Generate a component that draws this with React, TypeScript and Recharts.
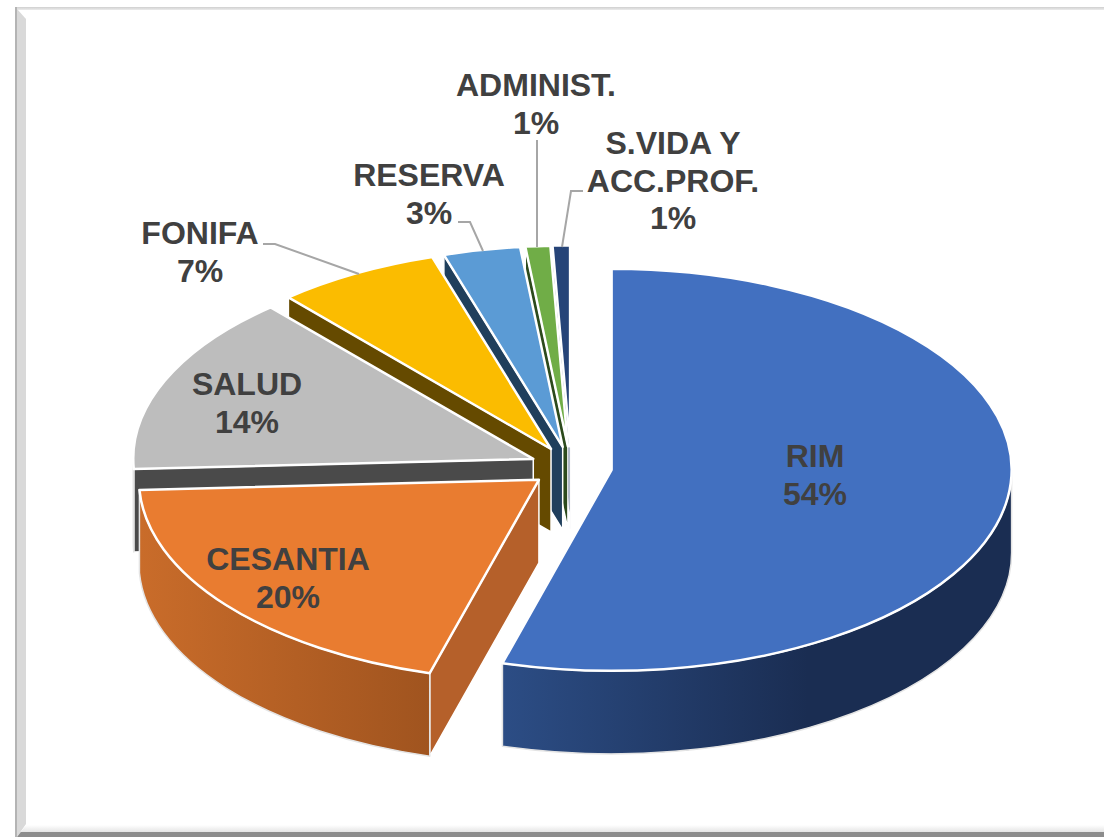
import { PieChart, Pie } from 'recharts';

// Listed from the back of the pie to the front, so later slices paint over earlier ones
const CATEGORIES = ['S.VIDA Y\nACC.PROF.', 'ADMINIST.', 'RESERVA', 'FONIFA', 'SALUD', 'CESANTIA', 'RIM'];
const VALUES = [0.7, 1.0, 3.1, 6.6, 14.4, 19.8, 54.4];

const chartData = CATEGORIES.map((name, i) => ({ name, value: VALUES[i] }));

const TOP_COLORS = ['#264478', '#70ad47', '#5b9bd5', '#fbbc00', '#bdbdbd', '#e97c30', '#4270c0'];
const CUT_COLORS = ['#1d3560', '#2c4a1c', '#203f5c', '#654a00', '#4a4a4a', '#b5602a', '#1a2f57'];
const WALL_LEFT = ['#1d3560', '#2c4a1c', '#203f5c', '#654a00', '#4a4a4a', '#c96c2a', '#2c4d85'];
const WALL_RIGHT = ['#1d3560', '#2c4a1c', '#203f5c', '#654a00', '#4a4a4a', '#a0541f', '#1a2d52'];
// Where the wall gradient reaches its dark end
const WALL_STOP = [1, 1, 1, 1, 1, 1, 0.6];

// Label placement: centre x, first baseline, leader line
const LABEL_X = [673, 536, 429, 200, 247, 288, 815];
const LABEL_Y = [154, 96, 186, 244, 395, 570, 467];
const LEADERS = [
    '583,191 571,191 562,247',
    '537,140 537,247',
    '458,222 470,222 483,251',
    '263,244 275,244 359,274',
    '',
    '',
    '',
];

const TILT = 0.5025;
const EXPLODE = 41;
const DEPTH = 83;
const LINE_HEIGHT = 37.5;
const RAD = Math.PI / 180;

function SliceShape(props: any) {
    const { cx, cy, outerRadius: r, startAngle, endAngle, index } = props;
    // recharts angles are counter-clockwise from east, here they are clockwise from the top
    let a0 = 90 - Math.max(startAngle, endAngle);
    const span = Math.abs(endAngle - startAngle);
    if (a0 < 0) a0 += 360;
    const a1 = a0 + span;
    const mid = (a0 + a1) / 2;
    const ox = cx + EXPLODE * Math.sin(mid * RAD);
    const oy = cy - EXPLODE * TILT * Math.cos(mid * RAD);
    const ry = r * TILT;
    const pt = (a: number, dz = 0) =>
        `${ox + r * Math.sin(a * RAD)} ${oy - ry * Math.cos(a * RAD) + dz}`;
    const arc = (to: number, sweep: number, large: boolean, dz = 0) =>
        `A ${r} ${ry} 0 ${large ? 1 : 0} ${sweep} ${pt(to, dz)}`;

    const top = `M ${ox} ${oy} L ${pt(a0)} ${arc(a1, 1, span > 180)} Z`;
    const cut = (a: number) =>
        `M ${ox} ${oy} L ${pt(a)} L ${pt(a, DEPTH)} L ${ox} ${oy + DEPTH} Z`;

    const from = Math.max(a0, 90);
    const to = Math.min(a1, 270);
    const gradId = `wall-${index}`;

    return (
        <g>
            {Math.sin(a0 * RAD) < -0.001 && (
                <path d={cut(a0)} fill={CUT_COLORS[index]} stroke="#ffffff" strokeWidth={1.5} strokeLinejoin="round" />
            )}
            {to > from && (
                <>
                    <defs>
                        <linearGradient id={gradId} x1="0" y1="0" x2="1" y2="0">
                            <stop offset="0" stopColor={WALL_LEFT[index]} />
                            <stop offset={WALL_STOP[index]} stopColor={WALL_RIGHT[index]} />
                        </linearGradient>
                    </defs>
                    <path
                        d={`M ${pt(from)} ${arc(to, 1, false)} L ${pt(to, DEPTH)} ${arc(from, 0, false, DEPTH)} Z`}
                        fill={`url(#${gradId})`}
                        stroke="#e4e4e4"
                        strokeWidth={1.5}
                        strokeLinejoin="round"
                    />
                </>
            )}
            <path d={top} fill={TOP_COLORS[index]} stroke="#ffffff" strokeWidth={2.5} strokeLinejoin="round" />
        </g>
    );
}

function SliceLabel(props: any) {
    const { name, percent, index } = props;
    const lines = [...String(name).split('\n'), `${Math.round(percent * 100)}%`];
    return (
        <g>
            {LEADERS[index] && (
                <polyline points={LEADERS[index]} fill="none" stroke="#a6a6a6" strokeWidth={2} />
            )}
            <text
                x={LABEL_X[index]}
                y={LABEL_Y[index]}
                textAnchor="middle"
                fontFamily="'Liberation Sans', Arial, sans-serif"
                fontWeight={700}
                fontSize={32}
                fill="#404040"
            >
                {lines.map((line, i) => (
                    <tspan key={i} x={LABEL_X[index]} dy={i === 0 ? 0 : LINE_HEIGHT}>
                        {line}
                    </tspan>
                ))}
            </text>
        </g>
    );
}

export default function App() {
    return (
        <div style={{ position: 'absolute', left: 0, top: 0, width: 1104, height: 837, background: '#ffffff', overflow: 'hidden' }}>
            {/* bevelled frame */}
            <div style={{ position: 'absolute', left: 15, top: 7, right: -10, height: 3, background: 'linear-gradient(#cfcfcf, #ececec)' }} />
            <div style={{ position: 'absolute', left: 15, top: 7, bottom: 0, width: 2, background: '#b4b4b4' }} />
            <div style={{ position: 'absolute', left: 17, top: 9, bottom: 0, width: 9, background: '#d9d9d9', clipPath: 'polygon(0 0, 100% 10px, 100% calc(100% - 13px), 0 100%)' }} />
            <div style={{ position: 'absolute', left: 17, right: 0, bottom: 0, height: 12, background: 'linear-gradient(#ffffff 0%, #e6e6e6 55%, #8c8c8c 56%, #8c8c8c 100%)', clipPath: 'polygon(9px 0, 100% 0, 100% 100%, 0 100%)' }} />
            <div style={{ position: 'absolute', left: 0, top: 0 }}>
                <PieChart width={1104} height={837} margin={{ top: 0, right: 0, bottom: 0, left: 0 }}>
                    <Pie
                        data={chartData}
                        dataKey="value"
                        nameKey="name"
                        cx={571}
                        cy={467}
                        innerRadius={0}
                        outerRadius={400}
                        startAngle={90}
                        endAngle={450}
                        paddingAngle={0}
                        shape={SliceShape}
                        label={SliceLabel}
                        labelLine={false}
                        isAnimationActive={false}
                    />
                </PieChart>
            </div>
        </div>
    );
}
